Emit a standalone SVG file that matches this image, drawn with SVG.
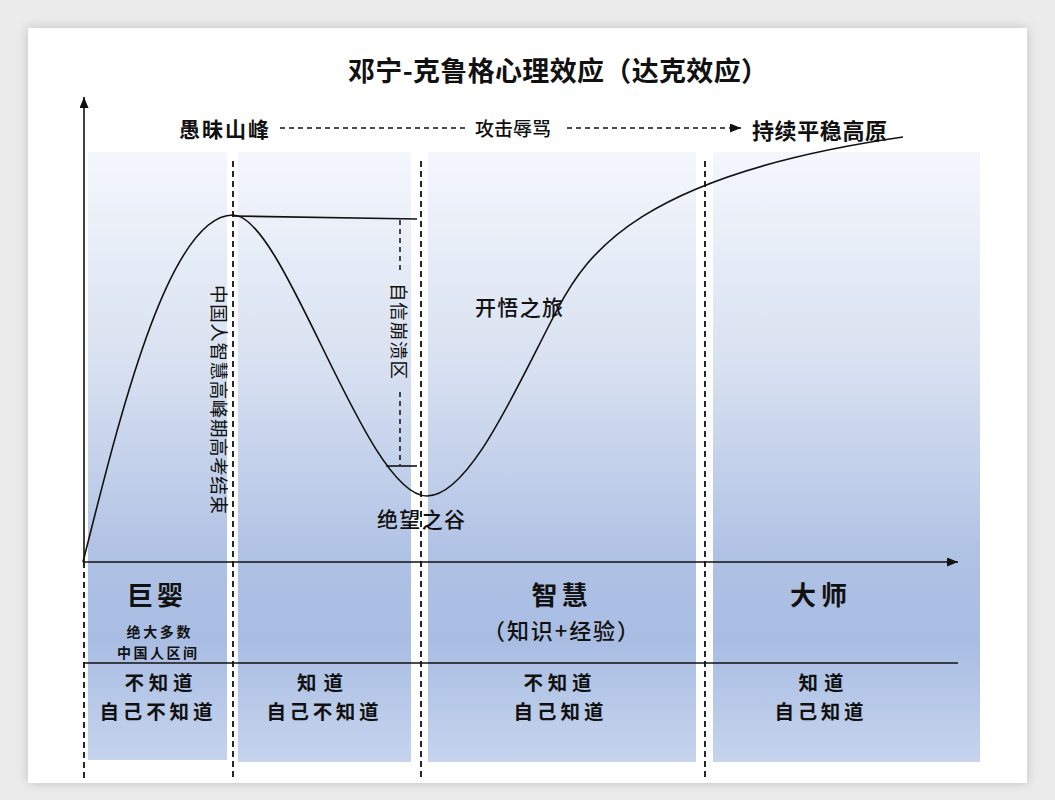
<svg xmlns="http://www.w3.org/2000/svg" width="1055" height="800" viewBox="0 0 1055 800">
  <style>
    .t { font-family: 'Noto Sans CJK SC', 'Noto Sans CJK JP', 'Noto Sans', sans-serif; fill: #111; dominant-baseline: central; }
    .c { text-anchor: middle; }
    .b { font-weight: 700; }
    .m { font-weight: 500; }
    .panel { fill: url(#pg); }
    .vd { stroke: #111; stroke-width: 1.8; stroke-dasharray: 6 4; fill: none; }
    .hd { stroke: #111; stroke-width: 1.5; stroke-dasharray: 5 4; fill: none; }
    .ln { stroke: #111; stroke-width: 1.6; fill: none; }
  </style>
  <defs>
    <linearGradient id="pg" gradientUnits="userSpaceOnUse" x1="0" y1="152" x2="0" y2="762">
      <stop offset="0" stop-color="#f4f7fc"/>
      <stop offset="0.35" stop-color="#d8e1f1"/>
      <stop offset="0.67" stop-color="#afc1e4"/>
      <stop offset="0.8" stop-color="#a9bde3"/>
      <stop offset="1" stop-color="#c6d4ed"/>
    </linearGradient>
    <filter id="sh" x="-5%" y="-5%" width="110%" height="110%">
      <feDropShadow dx="0" dy="0" stdDeviation="6" flood-color="#888" flood-opacity="0.45"/>
    </filter>
    <marker id="ah" markerUnits="userSpaceOnUse" markerWidth="12" markerHeight="10" refX="11" refY="4.5" orient="auto">
      <path d="M0,0 L11,4.5 L0,9 Z" fill="#111"/>
    </marker>
  </defs>

  <rect x="0" y="0" width="1055" height="800" fill="#ececec"/>
  <rect id="card" x="28" y="28" width="999" height="755" fill="#ffffff" filter="url(#sh)"/>

  <g id="panels">
    <rect id="panel-1" class="panel" x="88" y="152" width="139" height="608"/>
    <rect id="panel-2" class="panel" x="238" y="152" width="173" height="610"/>
    <rect id="panel-3" class="panel" x="428" y="152" width="268" height="610"/>
    <rect id="panel-4" class="panel" x="713" y="152" width="267" height="610"/>
  </g>

  <g id="connectors">
    <!-- axes -->
    <line class="ln" x1="84" y1="562" x2="84" y2="97" marker-end="url(#ah)"/>
    <line class="vd" x1="84" y1="562" x2="84" y2="778"/>
    <line class="ln" x1="83" y1="562" x2="958" y2="562" marker-end="url(#ah)"/>
    <line class="ln" x1="83" y1="663" x2="958" y2="663"/>
    <!-- stage separators -->
    <line class="vd" x1="233" y1="161" x2="233" y2="778"/>
    <line class="vd" x1="421" y1="161" x2="421" y2="778"/>
    <line class="vd" x1="705" y1="161" x2="705" y2="778"/>
    <!-- top dashed flow -->
    <line class="hd" x1="280" y1="128" x2="465" y2="128"/>
    <line class="hd" x1="567" y1="128" x2="741" y2="128" marker-end="url(#ah)"/>
    <!-- curve -->
    <path class="ln" stroke-width="1.8" d="M83,562 C117,428 167,215 233,215 C285,215 365,496 427,496 C470,496 517,386 557,310 C587,253 640,175 903,137"/>
    <!-- plateau line and confidence collapse marker -->
    <line class="ln" x1="233" y1="216" x2="417" y2="219"/>
    <line class="hd" stroke-width="1.6" x1="400" y1="220" x2="400" y2="270"/>
    <line class="hd" stroke-width="1.6" x1="400" y1="392" x2="400" y2="465"/>
    <line class="ln" x1="386" y1="466" x2="417" y2="466"/>
  </g>

  <g id="title">
    <text class="t b" x="348" y="69.5" font-size="27" textLength="420" lengthAdjust="spacing">邓宁-克鲁格心理效应（达克效应）</text>
  </g>

  <g id="top-labels">
    <text id="lbl-peak" class="t b" x="179" y="127.5" font-size="21" textLength="90" lengthAdjust="spacing">愚昧山峰</text>
    <text id="lbl-attack" class="t m" x="475" y="127.5" font-size="19" textLength="76" lengthAdjust="spacing">攻击辱骂</text>
    <text id="lbl-plateau" class="t b" x="752" y="128.5" font-size="22" textLength="135" lengthAdjust="spacing">持续平稳高原</text>
  </g>

  <g id="curve-labels">
    <text id="lbl-journey" class="t m" x="475" y="306" font-size="21" textLength="88" lengthAdjust="spacing">开悟之旅</text>
    <text id="lbl-valley" class="t m" x="377" y="518" font-size="21" textLength="88" lengthAdjust="spacing">绝望之谷</text>
    <text id="lbl-exam" class="t" font-size="18.5" transform="translate(220,285) rotate(90)" x="0" y="0" textLength="229" lengthAdjust="spacing">中国人智慧高峰期高考结束</text>
    <text id="lbl-collapse" class="t" font-size="18.5" transform="translate(400,283) rotate(90)" x="0" y="0" textLength="96" lengthAdjust="spacing">自信崩溃区</text>
  </g>

  <g id="stage-1">
    <text class="t b c" x="155" y="593" font-size="26" textLength="56" lengthAdjust="spacing">巨婴</text>
    <text class="t b c" x="158.5" y="631" font-size="14" textLength="64" lengthAdjust="spacing">绝大多数</text>
    <text class="t b c" x="157" y="652" font-size="14" textLength="80" lengthAdjust="spacing">中国人区间</text>
    <text class="t b c" x="158.5" y="681" font-size="19.5" textLength="68" lengthAdjust="spacing">不知道</text>
    <text class="t b c" x="156" y="710" font-size="19.5" textLength="113" lengthAdjust="spacing">自己不知道</text>
  </g>

  <g id="stage-2">
    <text class="t b c" x="320" y="681" font-size="19.5" textLength="46" lengthAdjust="spacing">知道</text>
    <text class="t b c" x="322.5" y="710" font-size="19.5" textLength="112" lengthAdjust="spacing">自己不知道</text>
  </g>

  <g id="stage-3">
    <text class="t b c" x="559.5" y="593" font-size="26" textLength="56" lengthAdjust="spacing">智慧</text>
    <text class="t m c" x="561" y="628.5" font-size="22" textLength="156" lengthAdjust="spacing">（知识+经验）</text>
    <text class="t b c" x="557.5" y="681" font-size="19.5" textLength="68" lengthAdjust="spacing">不知道</text>
    <text class="t b c" x="558.5" y="710" font-size="19.5" textLength="90" lengthAdjust="spacing">自己知道</text>
  </g>

  <g id="stage-4">
    <text class="t b c" x="818.5" y="593" font-size="26" textLength="57" lengthAdjust="spacing">大师</text>
    <text class="t b c" x="821" y="681" font-size="19.5" textLength="45" lengthAdjust="spacing">知道</text>
    <text class="t b c" x="819" y="710" font-size="19.5" textLength="89" lengthAdjust="spacing">自己知道</text>
  </g>
</svg>
